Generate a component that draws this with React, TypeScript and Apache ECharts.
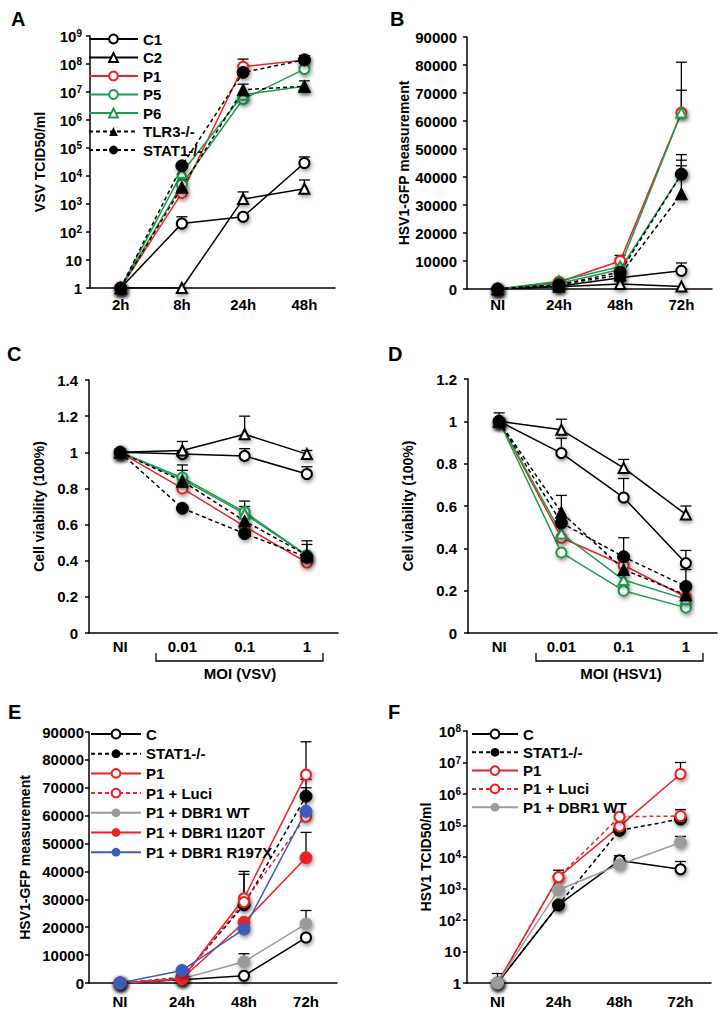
import React, { useEffect, useRef } from 'react';
import * as echarts from 'echarts';

// ---------- data ----------
const catsTime8 = ['2h', '8h', '24h', '48h'];
const catsTime = ['NI', '24h', '48h', '72h'];
const catsMOI = ['NI', '0.01', '0.1', '1'];

// Panel A (VSV TCID50/ml, log)
const A_C1 = [1, 200, 350, 29000];
const A_C2 = [1, 1, 1500, 3500];
const A_P1 = [1, 2500, 8e7, 1.4e8];
const A_P5 = [1, 5000, 5.6e6, 6.6e7];
const A_P6 = [1, 13000, 8e6, 1.6e7];
const A_TLR3 = [1, 4000, 1.2e7, 1.6e7];
const A_STAT1 = [1, 23000, 5e7, 1.4e8];
const A_err = [[1, 200, 350], [2, 1500, 2700], [3, 29000, 48000], [3, 3500, 7200], [2, 8e7, 1.5e8], [3, 1.4e8, 2e8], [2, 1.2e7, 1.9e7], [3, 1.6e7, 2.5e7]];

// Panel B (HSV1-GFP)
const B_C1 = [0, 1000, 4000, 6500];
const B_C2 = [0, 800, 1800, 900];
const B_P1 = [0, 2500, 10000, 63000];
const B_P5 = [0, 2000, 7000, 41000];
const B_P6 = [0, 2800, 8000, 63000];
const B_TLR3 = [0, 1500, 5000, 34000];
const B_STAT1 = [0, 1500, 6000, 41000];
const B_err = [[3, 63000, 81000], [3, 63000, 71000], [3, 41000, 48000], [3, 41000, 46000], [3, 34000, 44000], [3, 6500, 9300], [2, 10000, 12000]];

// Panel C (viability, VSV)
const C_C1 = [1, 0.99, 0.98, 0.88];
const C_C2 = [1, 1.01, 1.1, 0.99];
const C_P1 = [1, 0.8, 0.59, 0.39];
const C_P5 = [1, 0.86, 0.67, 0.43];
const C_P6 = [1, 0.85, 0.66, 0.43];
const C_TLR3 = [1, 0.84, 0.62, 0.43];
const C_STAT1 = [1, 0.69, 0.55, 0.42];
const C_err = [[0, 1, 1.02], [1, 1.01, 1.06], [2, 1.1, 1.2], [3, 0.99, 1.01], [2, 0.98, 1.02], [3, 0.88, 0.92], [1, 0.84, 0.93], [1, 0.86, 0.9], [2, 0.67, 0.73], [2, 0.62, 0.7], [3, 0.43, 0.51], [3, 0.42, 0.49]];

// Panel D (viability, HSV1)
const D_C1 = [1, 0.85, 0.64, 0.33];
const D_C2 = [1, 0.96, 0.78, 0.56];
const D_P1 = [1, 0.45, 0.32, 0.17];
const D_P5 = [1, 0.38, 0.2, 0.12];
const D_P6 = [1, 0.47, 0.25, 0.16];
const D_TLR3 = [1, 0.57, 0.3, 0.18];
const D_STAT1 = [1, 0.52, 0.36, 0.22];
const D_err = [[0, 1, 1.04], [1, 0.96, 1.01], [1, 0.85, 0.92], [1, 0.57, 0.65], [2, 0.78, 0.82], [2, 0.64, 0.73], [2, 0.36, 0.45], [3, 0.56, 0.6], [3, 0.33, 0.39], [3, 0.22, 0.3]];

// Panel E (HSV1-GFP, rescue)
const E_C = [0, 1200, 2600, 16300];
const E_STAT1 = [0, 2000, 28000, 67000];
const E_P1 = [0, 1500, 30400, 74700];
const E_Luci = [0, 1500, 29000, 59600];
const E_WT = [0, 1500, 7600, 21200];
const E_I120T = [0, 1500, 21800, 44900];
const E_R197X = [0, 4500, 19300, 61600];
const E_err = [[3, 74700, 86500], [3, 67000, 73000], [3, 61600, 70000], [3, 44900, 54000], [3, 21200, 26000], [2, 30400, 40000], [2, 28000, 39000], [2, 7600, 10500]];

// Panel F (HSV1 TCID50/ml, log)
const F_C = [1, 300, 7800, 4100];
const F_STAT1 = [1, 300, 70000, 160000];
const F_P1 = [1, 2300, 94000, 4.3e6];
const F_Luci = [1, 2300, 190000, 200000];
const F_WT = [1, 900, 5700, 29000];
const F_err = [[0, 1, 2], [1, 2300, 3800], [2, 7800, 11000], [3, 4.3e6, 1e7], [3, 160000, 320000], [3, 200000, 320000], [3, 29000, 45000], [3, 4100, 7200]];

const legendAB = ['C1', 'C2', 'P1', 'P5', 'P6', 'TLR3-/-', 'STAT1-/-'];
const legendE = ['C', 'STAT1-/-', 'P1', 'P1 + Luci', 'P1 + DBR1 WT', 'P1 + DBR1 I120T', 'P1 + DBR1 R197X'];
const legendF = ['C', 'STAT1-/-', 'P1', 'P1 + Luci', 'P1 + DBR1 WT'];

// ---------- styles ----------
const FONT = "'Liberation Sans', Arial, Helvetica, sans-serif";
const RED = '#ec2227';
const GREEN = '#1f9a4f';
const BLUE = '#3b5cb8';
const GREY = '#9b9b9b';
const BLACK = '#000';
const TICK_FS = 15;

const STY: Record<string, { color: string; dash: boolean; symbol: string }> = {
  'C1': { color: BLACK, dash: false, symbol: 'emptyCircle' },
  'C2': { color: BLACK, dash: false, symbol: 'emptyTriangle' },
  'P1': { color: RED, dash: false, symbol: 'emptyCircle' },
  'P5': { color: GREEN, dash: false, symbol: 'emptyCircle' },
  'P6': { color: GREEN, dash: false, symbol: 'emptyTriangle' },
  'TLR3-/-': { color: BLACK, dash: true, symbol: 'triangle' },
  'STAT1-/-': { color: BLACK, dash: true, symbol: 'circle' },
  'C': { color: BLACK, dash: false, symbol: 'emptyCircle' },
  'P1 + Luci': { color: RED, dash: true, symbol: 'emptyCircle' },
  'P1 + DBR1 WT': { color: GREY, dash: false, symbol: 'circle' },
  'P1 + DBR1 I120T': { color: RED, dash: false, symbol: 'circle' },
  'P1 + DBR1 R197X': { color: BLUE, dash: false, symbol: 'circle' },
};

const grids = [
  { left: 90, top: 36, width: 245, height: 252 },
  { left: 467, top: 37, width: 245, height: 252 },
  { left: 89, top: 380, width: 249, height: 253 },
  { left: 468, top: 379, width: 249, height: 254 },
  { left: 89, top: 732, width: 248, height: 251 },
  { left: 467, top: 731, width: 244, height: 252 },
];

function lineSeries(name: string, data: number[], idx: number) {
  const s = STY[name];
  const empty = s.symbol.indexOf('empty') === 0;
  return {
    type: 'line',
    name,
    xAxisIndex: idx,
    yAxisIndex: idx,
    data,
    symbol: s.symbol,
    symbolSize: empty ? 10 : 12,
    lineStyle: { color: s.color, width: 1.5, type: s.dash ? [4, 3] : 'solid' },
    itemStyle: {
      color: s.color,
      borderColor: s.color,
      shadowBlur: 4,
      shadowColor: 'rgba(0,0,0,0.45)',
      shadowOffsetX: 1,
      shadowOffsetY: 2,
    },
    z: 3,
  };
}

function errSeries(errs: number[][], idx: number) {
  return {
    type: 'custom',
    name: 'err' + idx,
    xAxisIndex: idx,
    yAxisIndex: idx,
    data: errs,
    encode: { x: 0, y: [1, 2] },
    z: 1,
    renderItem: (params: any, api: any) => {
      const x = api.value(0);
      const p1 = api.coord([x, api.value(1)]);
      const p2 = api.coord([x, api.value(2)]);
      const w = 5.5;
      const st = { stroke: '#000', lineWidth: 1.3 };
      return {
        type: 'group',
        children: [
          { type: 'line', shape: { x1: p1[0], y1: p1[1], x2: p2[0], y2: p2[1] }, style: st },
          { type: 'line', shape: { x1: p2[0] - w, y1: p2[1], x2: p2[0] + w, y2: p2[1] }, style: st },
        ],
      };
    },
  };
}

const axisLineStyle = { color: '#000', width: 1.5 };
const labelBase = { color: '#000', fontSize: TICK_FS, fontWeight: 'bold', fontFamily: FONT };
const nameStyle = { color: '#000', fontSize: 14, fontWeight: 'bold', fontFamily: FONT };

function xAxis(idx: number, data: string[], margin: number) {
  return {
    type: 'category',
    gridIndex: idx,
    data,
    boundaryGap: true,
    axisLine: { lineStyle: axisLineStyle },
    axisTick: { length: 4, lineStyle: axisLineStyle },
    axisLabel: { ...labelBase, margin },
    splitLine: { show: false },
  };
}

function logLabel(v: number) {
  const e = Math.round(Math.log10(v));
  if (e === 0) return '{b|1}';
  if (e === 1) return '{b|10}';
  return '{b|10}{s|' + e + '}';
}

function yAxisLinear(idx: number, name: string, max: number, interval: number, nameGap: number, margin: number, dec: boolean) {
  return {
    type: 'value',
    gridIndex: idx,
    min: 0,
    max,
    interval,
    name,
    nameLocation: 'middle',
    nameGap,
    nameTextStyle: nameStyle,
    axisLine: { show: true, lineStyle: axisLineStyle },
    axisTick: { show: true, length: 4, lineStyle: axisLineStyle },
    axisLabel: {
      ...labelBase,
      margin,
      formatter: (v: number) => (dec ? String(+v.toFixed(1)) : String(Math.round(v))),
    },
    splitLine: { show: false },
  };
}

function yAxisLog(idx: number, name: string, max: number, split: number, nameGap: number, margin: number) {
  return {
    type: 'log',
    logBase: 10,
    gridIndex: idx,
    min: 1,
    max,
    splitNumber: split,
    name,
    nameLocation: 'middle',
    nameGap,
    nameTextStyle: nameStyle,
    axisLine: { show: true, lineStyle: axisLineStyle },
    axisTick: { show: true, length: 4, lineStyle: axisLineStyle },
    axisLabel: {
      ...labelBase,
      margin,
      formatter: logLabel,
      rich: {
        b: { color: '#000', fontSize: TICK_FS, fontWeight: 'bold', fontFamily: FONT, lineHeight: 15 },
        s: { color: '#000', fontSize: 10, fontWeight: 'bold', fontFamily: FONT, lineHeight: 10, verticalAlign: 'top' },
      },
    },
    splitLine: { show: false },
    minorTick: { show: false },
  };
}

function legend(data: string[], left: number, top: number, itemWidth: number, itemGap: number) {
  return {
    data,
    left,
    top,
    orient: 'vertical',
    padding: 0,
    itemWidth,
    itemHeight: 11,
    itemGap,
    selectedMode: false,
    itemStyle: { shadowBlur: 0, shadowOffsetX: 0, shadowOffsetY: 0 },
    textStyle: { color: '#000', fontSize: 15, fontWeight: 'bold', fontFamily: FONT, lineHeight: 11 },
  };
}

function letter(t: string, x: number, y: number) {
  return {
    type: 'text',
    x,
    y,
    style: { text: t, fill: '#000', fontSize: 20, fontWeight: 'bold', fontFamily: FONT, align: 'left', verticalAlign: 'middle' },
  };
}

function bracket(x1: number, x2: number, yTop: number, yBot: number, label: string, lx: number, ly: number) {
  return [
    {
      type: 'polyline',
      shape: { points: [[x1, yTop], [x1, yBot], [x2, yBot], [x2, yTop]] },
      style: { stroke: '#000', lineWidth: 1.3, fill: 'none' },
    },
    {
      type: 'text',
      x: lx,
      y: ly,
      style: { text: label, fill: '#000', fontSize: 15, fontWeight: 'bold', fontFamily: FONT, align: 'center', verticalAlign: 'middle' },
    },
  ];
}

export default function App() {
  const ref = useRef<HTMLDivElement>(null);
  useEffect(() => {
    document.body.style.margin = '0';
    if (!ref.current) return;
    const chart = echarts.init(ref.current, null, { renderer: 'svg' });
    const series: any[] = [
      errSeries(A_err, 0),
      lineSeries('C1', A_C1, 0), lineSeries('C2', A_C2, 0), lineSeries('P1', A_P1, 0), lineSeries('P5', A_P5, 0),
      lineSeries('P6', A_P6, 0), lineSeries('TLR3-/-', A_TLR3, 0), lineSeries('STAT1-/-', A_STAT1, 0),
      errSeries(B_err, 1),
      lineSeries('C1', B_C1, 1), lineSeries('C2', B_C2, 1), lineSeries('P1', B_P1, 1), lineSeries('P5', B_P5, 1),
      lineSeries('P6', B_P6, 1), lineSeries('TLR3-/-', B_TLR3, 1), lineSeries('STAT1-/-', B_STAT1, 1),
      errSeries(C_err, 2),
      lineSeries('C1', C_C1, 2), lineSeries('C2', C_C2, 2), lineSeries('P1', C_P1, 2), lineSeries('P5', C_P5, 2),
      lineSeries('P6', C_P6, 2), lineSeries('TLR3-/-', C_TLR3, 2), lineSeries('STAT1-/-', C_STAT1, 2),
      errSeries(D_err, 3),
      lineSeries('C1', D_C1, 3), lineSeries('C2', D_C2, 3), lineSeries('P1', D_P1, 3), lineSeries('P5', D_P5, 3),
      lineSeries('P6', D_P6, 3), lineSeries('TLR3-/-', D_TLR3, 3), lineSeries('STAT1-/-', D_STAT1, 3),
      errSeries(E_err, 4),
      lineSeries('C', E_C, 4), lineSeries('STAT1-/-', E_STAT1, 4), lineSeries('P1', E_P1, 4), lineSeries('P1 + Luci', E_Luci, 4),
      lineSeries('P1 + DBR1 WT', E_WT, 4), lineSeries('P1 + DBR1 I120T', E_I120T, 4), lineSeries('P1 + DBR1 R197X', E_R197X, 4),
      errSeries(F_err, 5),
      lineSeries('C', F_C, 5), lineSeries('STAT1-/-', F_STAT1, 5), lineSeries('P1', F_P1, 5), lineSeries('P1 + Luci', F_Luci, 5),
      lineSeries('P1 + DBR1 WT', F_WT, 5),
    ];
    chart.setOption({
      animation: false,
      backgroundColor: '#fff',
      grid: grids,
      xAxis: [
        xAxis(0, catsTime8, 9),
        xAxis(1, catsTime, 8),
        xAxis(2, catsMOI, 6),
        xAxis(3, catsMOI, 6),
        xAxis(4, catsTime, 11),
        xAxis(5, catsTime, 11),
      ],
      yAxis: [
        yAxisLog(0, 'VSV TCID50/ml', 1e9, 9, 43, 8),
        yAxisLinear(1, 'HSV1-GFP measurement', 90000, 10000, 53, 10, false),
        yAxisLinear(2, 'Cell viability (100%)', 1.4, 0.2, 43, 11, true),
        yAxisLinear(3, 'Cell viability (100%)', 1.2, 0.2, 53, 11, true),
        yAxisLinear(4, 'HSV1-GFP measurement', 90000, 10000, 57, 5, false),
        yAxisLog(5, 'HSV1 TCID50/ml', 1e8, 8, 34, 6),
      ],
      legend: [
        legend(legendAB, 88, 31.5, 49, 3.5),
        legend(legendE, 90, 726.5, 50, 4.7),
        legend(legendF, 471, 726.5, 46, 3.3),
      ],
      graphic: [
        letter('A', 11, 19),
        letter('B', 390, 19),
        letter('C', 7, 354),
        letter('D', 388, 354),
        letter('E', 8, 712),
        letter('F', 388, 712),
        ...bracket(156, 323, 653, 661, 'MOI (VSV)', 240, 673),
        ...bracket(536, 703, 653, 661, 'MOI (HSV1)', 621, 673),
      ],
      series,
    });
    return () => chart.dispose();
  }, []);
  return <div ref={ref} style={{ width: 728, height: 1015 }} />;
}
